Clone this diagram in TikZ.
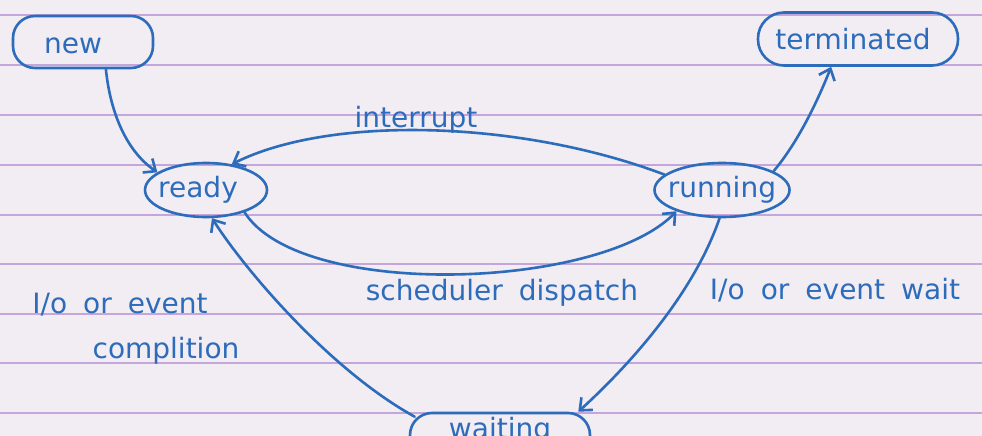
\documentclass[tikz,border=0pt]{standalone}
\usepackage{fontspec}
\setmainfont{DejaVu Sans}[WordSpace=1.8]
\usetikzlibrary{arrows.meta,shapes.geometric}
\definecolor{paper}{RGB}{242,236,243}
\definecolor{rulecol}{RGB}{196,166,220}
\definecolor{ink}{RGB}{44,108,186}
\begin{document}
\begin{tikzpicture}[x=1pt,y=-1pt,
  state/.style={draw=ink, line width=2.6pt, text=ink, font=\fontsize{28}{30}\selectfont,
    inner sep=0pt, text height=21pt, text depth=6.5pt},
  rbox/.style={state, rectangle, rounded corners=22pt},
  oval/.style={state, ellipse, inner xsep=-25pt, inner ysep=-10pt},
  lbl/.style={text=ink, font=\fontsize{28}{30}\selectfont, anchor=base, inner sep=0pt},
  arr/.style={draw=ink, line width=2.6pt, line cap=round, line join=round,
    -{Straight Barb[length=10pt,width=17pt,line width=2.6pt]}},
  ruling/.style={draw=rulecol, line width=1.3pt}]
\useasboundingbox (0,0) rectangle (982,436);
\clip (0,0) rectangle (982,436);
\fill[paper] (0,0) rectangle (982,436);
\foreach \yy in {15,65,115,165,215,264,314,363,413}
  \draw[ruling] (0,\yy) -- (982,\yy);

% states
\node[rbox, minimum width=140pt, minimum height=52pt, text height=28pt, text depth=6pt] (new) at (83,42) {\kern-20pt new};
\node[rbox, rounded corners=26pt, minimum width=200pt, minimum height=53pt, text height=28pt, text depth=6pt] (term) at (858,39) {\kern-10pt terminated};
\node[oval, minimum width=122pt, minimum height=54pt] (ready) at (206,190) {\kern-16pt ready};
\node[oval, minimum width=135pt, minimum height=54pt] (run) at (722,190) {running};
\node[rbox, minimum width=180pt, minimum height=60pt, text depth=31pt] (wait) at (500,443) {waiting};

% transitions
\draw[arr] (new.-50) .. controls (110,110) and (125,150) .. (ready.160);
\draw[arr] (run.165) .. controls (520,120) and (330,115) .. (ready.45);
\draw[arr] (ready.-30) .. controls (300,300) and (600,290) .. (run.205);
\draw[arr] (run.20) .. controls (800,140) and (820,95) .. (term.-134);
\draw[arr] (run.-95) .. controls (695,290) and (635,360) .. ([xshift=-13pt]wait.north east);
\draw[arr] ([xshift=6pt,yshift=-5pt]wait.north west) .. controls (330,370) and (245,270) .. (ready.-78);

% labels
\node[lbl] (lint) at (416,127) {interrupt};
\node[lbl] (lsch) at (502,300) {scheduler dispatch};
\node[lbl] (lwait) at (835,299) {I/o or event wait};
\node[lbl] (lio) at (120,313) {I/o or event};
\node[lbl] (lcomp) at (166,358) {complition};
\end{tikzpicture}
\end{document}
